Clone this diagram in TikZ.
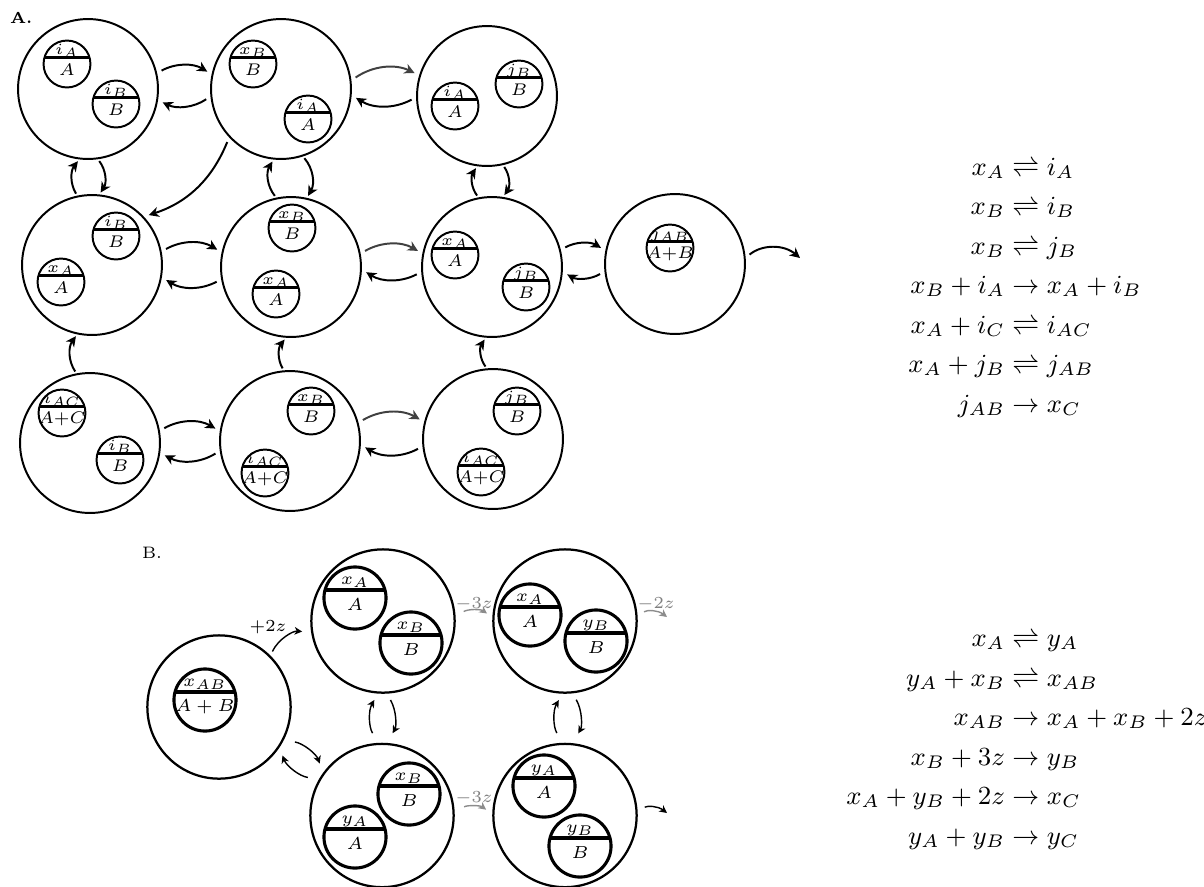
\documentclass[tikz,border=0pt]{standalone}
\usepackage{fix-cm}
\usepackage{amsmath}
\usetikzlibrary{arrows.meta}

% math sizes for the labels inside the small cells
\DeclareMathSizes{5.5}{5.5}{4.8}{4.8}
\DeclareMathSizes{6}{6}{5.2}{5.2}
\DeclareMathSizes{6.1}{6.1}{5}{5}
\DeclareMathSizes{6.2}{6.2}{5}{5}
\DeclareMathSizes{9.3}{9.3}{6.5}{4.65}

\newcommand{\topAfont}{\fontsize{5.5}{6}\selectfont}
\newcommand{\botAfont}{\fontsize{6}{6.5}\selectfont}
\newcommand{\topBfont}{\fontsize{6.1}{6.5}\selectfont}
\newcommand{\botBfont}{\fontsize{6.2}{7}\selectfont}
\newcommand{\eqfont}{\fontsize{9.3}{11}\selectfont}

\tikzset{
  bigA/.style={circle, draw, line width=0.7pt, minimum size=49.8pt, inner sep=0pt},
  bigB/.style={circle, draw, line width=0.8pt, minimum size=51pt, inner sep=0pt},
  smallA/.style={circle, draw, line width=0.7pt, minimum size=16.7pt, inner sep=0pt},
  smallB/.style={circle, draw, line width=1.1pt, minimum size=22.1pt, inner sep=0pt},
  divA/.style={line width=0.85pt},
  divB/.style={line width=1.1pt},
  lbl/.style={inner sep=0pt, outer sep=0pt},
  arrA/.style={line width=0.7pt, -{Stealth[length=3.6pt,width=3.6pt,inset=1.1pt]},
    shorten <=1.8pt, shorten >=1.8pt},
  arrAg/.style={arrA, draw=black!75},
  arrAv/.style={arrA, shorten <=0.8pt, shorten >=0.8pt},
  arrB/.style={line width=0.5pt, -{Stealth[length=2.7pt,width=2.7pt,inset=0.8pt]},
    shorten <=3pt, shorten >=2.5pt},
  arrBg/.style={arrB, draw=black!45},
  zlbl/.style={inner sep=0pt, font=\fontsize{6}{7}\selectfont},
  eqtext/.style={inner sep=0pt, outer sep=0pt, font=\eqfont},
}

% small split cell, part A: name, centre, upper label, lower label
\newcommand{\cellA}[4]{%
  \node[smallA] (#1) at (#2) {};
  \draw[divA] ([shift={(-22.6,-6.5)}]#1.center) -- ([shift={(22.6,-6.5)}]#1.center);
  \node[lbl, anchor=base] (#1-t) at ([shift={(0,-10)}]#1.center) {\topAfont$#3$};
  \node[lbl, anchor=center] (#1-b) at ([shift={(0,5.5)}]#1.center) {\botAfont$#4$};
}
% small split cell, part B
\newcommand{\cellB}[4]{%
  \node[smallB] (#1) at (#2) {};
  \draw[divB] ([shift={(-29.9,-8)}]#1.center) -- ([shift={(29.9,-8)}]#1.center);
  \node[lbl, anchor=base] (#1-t) at ([shift={(0,-14)}]#1.center) {\topBfont$#3$};
  \node[lbl, anchor=center] (#1-b) at ([shift={(0,7)}]#1.center) {\botBfont$#4$};
}
% one aligned reaction line: name, baseline, left side, right side
\newcommand{\eqrow}[4]{%
  \node[eqtext, anchor=base east] (#1l) at (1005,#2) {\eqfont$#3$};
  \node[eqtext, anchor=base west] (#1r) at (1005,#2) {\eqfont${}#4$};
}

\begin{document}
\begin{tikzpicture}[x=0.3559pt, y=-0.3559pt]
\useasboundingbox (0,0) rectangle (1204,886);

% ---------------- part A ----------------
\node[lbl, anchor=base west, font=\fontsize{5.6}{6}\selectfont\bfseries] (tagA) at (10,23) {A.};

\node[bigA] (a1) at (88,89) {};
\node[bigA] (a2) at (281,89) {};
\node[bigA] (a3) at (487,96) {};
\node[bigA] (a4) at (92,265) {};
\node[bigA] (a5) at (291,267) {};
\node[bigA] (a6) at (492,267) {};
\node[bigA] (a7) at (675,264) {};
\node[bigA] (a8) at (90,443) {};
\node[bigA] (a9) at (290,441) {};
\node[bigA] (a10) at (493,439) {};

\cellA{a1p}{67,64}{i_A}{A}
\cellA{a1q}{116,104}{i_B}{B}
\cellA{a2p}{253,64}{x_B}{B}
\cellA{a2q}{308,119}{i_A}{A}
\cellA{a3p}{455,106}{i_A}{A}
\cellA{a3q}{519,84}{j_B}{B}
\cellA{a4p}{116,236}{i_B}{B}
\cellA{a4q}{61,282}{x_A}{A}
\cellA{a5p}{292,228}{x_B}{B}
\cellA{a5q}{276,294}{x_A}{A}
\cellA{a6p}{455,255}{x_A}{A}
\cellA{a6q}{526,287}{j_B}{B}
\cellA{a7p}{670,248}{j_{AB}}{A{+}B}
\cellA{a8p}{62,413}{i_{AC}}{A{+}C}
\cellA{a8q}{120,460}{i_B}{B}
\cellA{a9p}{311,411}{x_B}{B}
\cellA{a9q}{265,473}{i_{AC}}{A{+}C}
\cellA{a10p}{517,411}{j_B}{B}
\cellA{a10q}{481,472}{i_{AC}}{A{+}C}

% horizontal exchanges
\draw[arrA]  (a1.13) to[bend left=30] (a2.168);
\draw[arrA]  (a2.186) to[bend left=30] (a1.-9.5);
\draw[arrAg] (a2.7) to[bend left=30] (a3.163);
\draw[arrA]  (a3.181) to[bend left=30] (a2.-5);
\draw[arrA]  (a4.11) to[bend left=30] (a5.168);
\draw[arrA]  (a5.190) to[bend left=30] (a4.-10);
\draw[arrAg] (a5.11) to[bend left=30] (a6.169);
\draw[arrA]  (a6.184) to[bend left=30] (a5.-2);
\draw[arrA]  (a6.14) to[bend left=30] (a7.169);
\draw[arrA]  (a7.186) to[bend left=30] (a6.-4);
\draw[arrA]  (a8.10) to[bend left=30] (a9.172);
\draw[arrA]  (a9.188) to[bend left=30] (a8.-8.5);
\draw[arrAg] (a9.15) to[bend left=30] (a10.166);
\draw[arrA]  (a10.186) to[bend left=30] (a9.-3.5);

% vertical exchanges
\draw[arrAv] (a4.102) to[bend left=35] (a1.-97);
\draw[arrAv] (a1.-82) to[bend left=35] (a4.84);
\draw[arrAv] (a5.102) to[bend left=35] (a2.-96);
\draw[arrAv] (a2.-72.5) to[bend left=35] (a5.77.5);
\draw[arrAv] (a6.101) to[bend left=35] (a3.-98);
\draw[arrAv] (a3.-77.5) to[bend left=35] (a6.81);
\draw[arrAv] (a8.101) to[bend left=35] (a4.-102);
\draw[arrAv] (a9.95) to[bend left=35] (a5.-94.5);
\draw[arrAv] (a10.95) to[bend left=35] (a6.-95.5);

\draw[arrA] (a2.-137) to[bend left=25] (a4.43);
\coordinate (outA) at (800,258);
\draw[arrA, shorten >=0pt] (a7.5) to[bend left=40] (outA);

% reactions, part A
\eqrow{ra1}{175}{x_A}{\rightleftharpoons i_A}
\eqrow{ra2}{214.5}{x_B}{\rightleftharpoons i_B}
\eqrow{ra3}{254}{x_B}{\rightleftharpoons j_B}
\eqrow{ra4}{293.5}{x_B + i_A}{\to x_A + i_B}
\eqrow{ra5}{333}{x_A + i_C}{\rightleftharpoons i_{AC}}
\eqrow{ra6}{372.5}{x_A + j_B}{\rightleftharpoons j_{AB}}
\eqrow{ra7}{412}{j_{AB}}{\to x_C}

% ---------------- part B ----------------
\node[lbl, anchor=base west, font=\fontsize{5.9}{6}\selectfont] (tagB) at (142,558) {B.};

\node[bigB] (b1) at (219,707) {};
\node[bigB] (b2) at (383,621) {};
\node[bigB] (b3) at (565,621) {};
\node[bigB] (b4) at (382,815.5) {};
\node[bigB] (b5) at (565,815.5) {};

\cellB{b1p}{205,700}{x_{AB}}{A+B}
\cellB{b2p}{355,598}{x_A}{A}
\cellB{b2q}{411,643}{x_B}{B}
\cellB{b3p}{530,615}{x_A}{A}
\cellB{b3q}{596,641}{y_B}{B}
\cellB{b4p}{409,794}{x_B}{B}
\cellB{b4q}{355,837}{y_A}{A}
\cellB{b5p}{544,786}{y_A}{A}
\cellB{b5q}{580,846}{y_B}{B}

\draw[arrB, shorten <=1.6pt, shorten >=3.2pt] (b1.45) to[bend left=35] (b2.189);
\node[zlbl] (zb1) at (268,627) {$+2z$};

\draw[arrBg, shorten <=3.5pt, shorten >=2.3pt] (b2.3) to[bend left=35] (b3.177);
\node[zlbl, text=black!50] (zb2) at (474,604) {$-3z$};

\coordinate (outB1) at (667,617);
\draw[arrBg, shorten <=2.7pt, shorten >=0pt] (b3.4) to[bend left=35] (outB1);
\node[zlbl, text=black!50] (zb3) at (656,604) {$-2z$};

\draw[arrBg, shorten <=4pt, shorten >=2.7pt] (b4.2.4) to[bend left=35] (b5.179);
\node[zlbl, text=black!50] (zb4) at (474,798) {$-3z$};

\coordinate (outB2) at (667,813);
\draw[arrB, shorten <=3pt, shorten >=0pt] (b5.3) to[bend left=35] (outB2);

\draw[arrB, shorten <=4pt, shorten >=2.6pt] (b4.93.4) to[bend left=30] (b2.-94.3);
\draw[arrB, shorten <=2.6pt, shorten >=4pt] (b2.-87) to[bend left=30] (b4.86.5);
\draw[arrB, shorten <=4pt, shorten >=2.6pt] (b5.92) to[bend left=30] (b3.-92.5);
\draw[arrB, shorten <=2.6pt, shorten >=4pt] (b3.-84) to[bend left=30] (b5.84);

\draw[arrB, shorten <=4pt, shorten >=3.5pt] (b1.-27) to[bend left=30] (b4.144);
\draw[arrB, shorten <=4pt, shorten >=3pt] (b4.150) to[bend left=30] (b1.-34);

% reactions, part B
\eqrow{rb1}{646.5}{x_A}{\rightleftharpoons y_A}
\eqrow{rb2}{686}{y_A + x_B}{\rightleftharpoons x_{AB}}
\eqrow{rb3}{725.5}{x_{AB}}{\to x_A + x_B + 2z}
\eqrow{rb4}{765}{x_B + 3z}{\to y_B}
\eqrow{rb5}{804.5}{x_A + y_B + 2z}{\to x_C}
\eqrow{rb6}{844}{y_A + y_B}{\to y_C}

\end{tikzpicture}
\end{document}
